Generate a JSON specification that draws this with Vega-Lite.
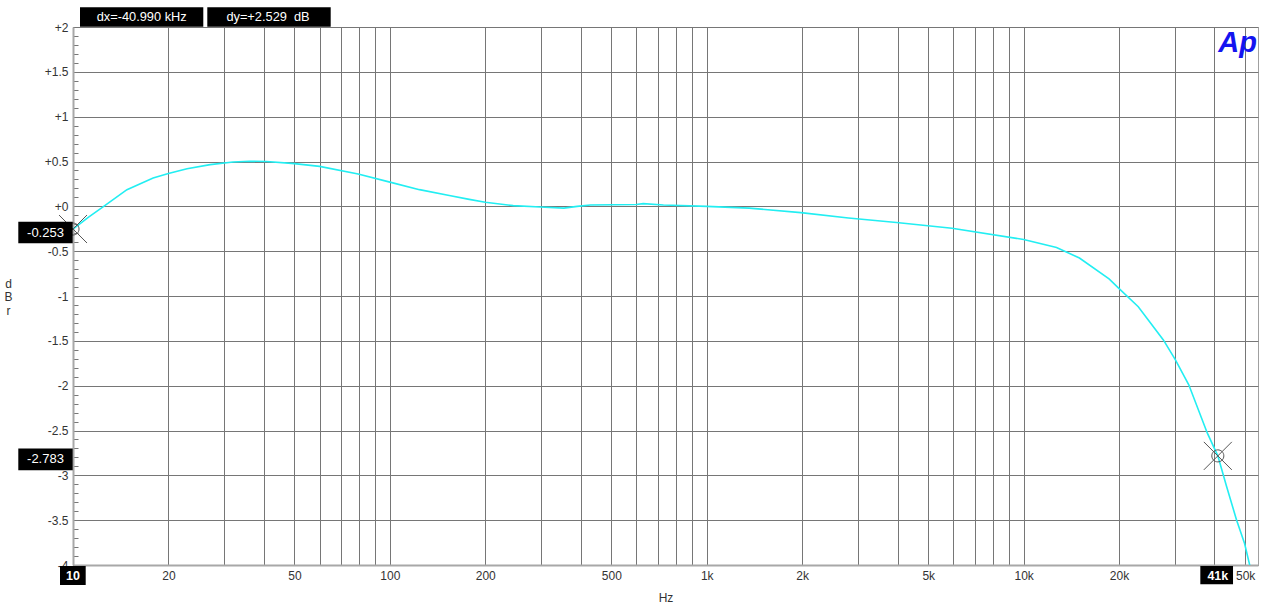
{
  "$schema": "https://vega.github.io/schema/vega-lite/v6.json",
  "width": 1185,
  "height": 538,
  "autosize": {"type": "none"},
  "padding": {"left": 73, "top": 27, "right": 22, "bottom": 46},
  "background": "white",
  "config": {
    "font": "Liberation Sans",
    "view": {"stroke": "#a0a0a0", "strokeWidth": 1}
  },
  "datasets": {
    "curve": [
      {"freq": 10, "dB": -0.253},
      {"freq": 11.2, "dB": -0.12},
      {"freq": 12.5, "dB": 0.0},
      {"freq": 14.8, "dB": 0.186},
      {"freq": 17.9, "dB": 0.317},
      {"freq": 20, "dB": 0.365},
      {"freq": 22.9, "dB": 0.42},
      {"freq": 27.1, "dB": 0.465},
      {"freq": 32, "dB": 0.495},
      {"freq": 36, "dB": 0.503},
      {"freq": 40.8, "dB": 0.5},
      {"freq": 50, "dB": 0.476},
      {"freq": 60, "dB": 0.446},
      {"freq": 79.4, "dB": 0.36},
      {"freq": 100, "dB": 0.27},
      {"freq": 124, "dB": 0.186},
      {"freq": 154, "dB": 0.12},
      {"freq": 178, "dB": 0.078},
      {"freq": 200, "dB": 0.045},
      {"freq": 245, "dB": 0.008},
      {"freq": 298, "dB": -0.007},
      {"freq": 354, "dB": -0.02},
      {"freq": 390, "dB": 0.0},
      {"freq": 429, "dB": 0.015},
      {"freq": 600, "dB": 0.02},
      {"freq": 630, "dB": 0.03},
      {"freq": 730, "dB": 0.015},
      {"freq": 1000, "dB": 0.0},
      {"freq": 1360, "dB": -0.02},
      {"freq": 1980, "dB": -0.07},
      {"freq": 2800, "dB": -0.13},
      {"freq": 3970, "dB": -0.18},
      {"freq": 5940, "dB": -0.245},
      {"freq": 10000, "dB": -0.37},
      {"freq": 12700, "dB": -0.46},
      {"freq": 15000, "dB": -0.576},
      {"freq": 18600, "dB": -0.81},
      {"freq": 19900, "dB": -0.91},
      {"freq": 23000, "dB": -1.12},
      {"freq": 27600, "dB": -1.49},
      {"freq": 30100, "dB": -1.71},
      {"freq": 33200, "dB": -1.99},
      {"freq": 38000, "dB": -2.53},
      {"freq": 41000, "dB": -2.783},
      {"freq": 43700, "dB": -3.125},
      {"freq": 47000, "dB": -3.5},
      {"freq": 49800, "dB": -3.76},
      {"freq": 51600, "dB": -3.99},
      {"freq": 52000, "dB": -4.05}
    ],
    "cursors": [
      {"freq": 10, "dB": -0.253, "label": "-0.253", "flabel": "10"},
      {"freq": 41000, "dB": -2.783, "label": "-2.783", "flabel": "41k"}
    ],
    "readouts": [
      {"slot": "dx", "text": "dx=-40.990 kHz"},
      {"slot": "dy", "text": "dy=+2.529 \u00a0dB"}
    ]
  },
  "layer": [
    {
      "data": {"name": "curve"},
      "mark": {"type": "line", "color": "#22eef2", "strokeWidth": 1.6, "clip": true},
      "encoding": {
        "x": {
          "field": "freq",
          "type": "quantitative",
          "scale": {"type": "log", "domain": [10, 54900], "nice": false},
          "axis": {
            "title": "Hz",
            "values": [10, 20, 30, 40, 50, 60, 70, 80, 90, 100, 200, 300, 400, 500, 600, 700, 800, 900, 1000, 2000, 3000, 4000, 5000, 6000, 7000, 8000, 9000, 10000, 20000, 30000, 40000, 50000],
            "tickCount": 200,
            "labelExpr": "indexof([20,50,100,200,500,1000,2000,5000,10000,20000,50000], datum.value) >= 0 ? (datum.value >= 1000 ? (datum.value/1000) + 'k' : datum.value + '') : ''",
            "grid": true,
            "gridColor": "#767676",
            "gridWidth": 1,
            "ticks": false,
            "domainColor": "#a8a8a8",
            "domainWidth": 2,
            "labelFontSize": 12,
            "labelColor": "#333333",
            "labelPadding": 5,
            "labelOverlap": false,
            "labelFlush": false,
            "titleFontSize": 12,
            "titleFontWeight": "normal",
            "titleColor": "#333333",
            "titleY": 32,
            "titleBaseline": "middle"
          }
        },
        "y": {
          "field": "dB",
          "type": "quantitative",
          "scale": {"domain": [-4, 2], "nice": false, "zero": false},
          "axis": {
            "title": ["d", "B", "r"],
            "values": [-4, -3.9, -3.8, -3.7, -3.6, -3.5, -3.4, -3.3, -3.2, -3.1, -3, -2.9, -2.8, -2.7, -2.6, -2.5, -2.4, -2.3, -2.2, -2.1, -2, -1.9, -1.8, -1.7, -1.6, -1.5, -1.4, -1.3, -1.2, -1.1, -1, -0.9, -0.8, -0.7, -0.6, -0.5, -0.4, -0.3, -0.2, -0.1, 0, 0.1, 0.2, 0.3, 0.4, 0.5, 0.6, 0.7, 0.8, 0.9, 1, 1.1, 1.2, 1.3, 1.4, 1.5, 1.6, 1.7, 1.8, 1.9, 2],
            "tickCount": 200,
            "labelExpr": "abs(datum.value*2 - round(datum.value*2)) < 0.01 ? (datum.value > 0.001 ? '+' + datum.value : (abs(datum.value) < 0.001 ? '+0' : '' + datum.value)) : ''",
            "grid": true,
            "gridColor": "#767676",
            "gridWidth": 1,
            "gridOpacity": {"condition": {"test": "abs(datum.value*2 - round(datum.value*2)) < 0.01", "value": 1}, "value": 0},
            "tickSize": -5,
            "tickColor": "#777777",
            "tickOpacity": {"condition": {"test": "abs(datum.value*2 - round(datum.value*2)) < 0.01", "value": 0}, "value": 1},
            "domainColor": "#a8a8a8",
            "domainWidth": 2,
            "labelFontSize": 12,
            "labelColor": "#333333",
            "labelPadding": 10,
            "labelOverlap": false,
            "labelFlush": false,
            "titleAngle": 0,
            "titleX": -65,
            "titleY": 256,
            "titleAlign": "center",
            "titleBaseline": "middle",
            "titleFontSize": 12,
            "titleFontWeight": "normal",
            "titleLineHeight": 13.5,
            "titleColor": "#333333"
          }
        }
      }
    },
    {
      "data": {"name": "cursors"},
      "mark": {"type": "point", "shape": "M-1,-1L1,1M-1,1L1,-1M0.43,0A0.43,0.43 0 1 1 -0.43,0A0.43,0.43 0 1 1 0.43,0Z", "size": 784, "filled": false, "stroke": "#555555", "strokeWidth": 1, "opacity": 1, "clip": false},
      "encoding": {
        "x": {"field": "freq", "type": "quantitative"},
        "y": {"field": "dB", "type": "quantitative"}
      }
    },
    {
      "data": {"name": "cursors"},
      "mark": {"type": "point", "shape": "M-5.47,-0.73H-0.03V1.43H-5.47Z", "size": 400, "filled": true, "color": "black", "opacity": 1, "strokeWidth": 0, "clip": false},
      "encoding": {
        "x": {"datum": 10, "type": "quantitative"},
        "y": {"field": "dB", "type": "quantitative"}
      }
    },
    {
      "data": {"name": "cursors"},
      "mark": {"type": "text", "color": "white", "fontSize": 13, "align": "center", "baseline": "middle", "dx": -27.5, "dy": 3.6, "clip": false},
      "encoding": {
        "x": {"datum": 10, "type": "quantitative"},
        "y": {"field": "dB", "type": "quantitative"},
        "text": {"field": "label"}
      }
    },
    {
      "data": {"name": "cursors"},
      "mark": {"type": "point", "size": 400, "filled": true, "color": "black", "opacity": 1, "strokeWidth": 0, "clip": false},
      "encoding": {
        "x": {"field": "freq", "type": "quantitative"},
        "y": {"datum": -4, "type": "quantitative"},
        "shape": {"field": "flabel", "type": "nominal", "scale": {"domain": ["10", "41k"], "range": ["M-1.3,0.1H1.27V2H-1.3Z", "M-1.75,0.1H1.52V1.93H-1.75Z"]}, "legend": null}
      }
    },
    {
      "data": {"name": "cursors"},
      "mark": {"type": "text", "color": "white", "fontSize": 12.5, "fontWeight": "bold", "align": "center", "baseline": "middle", "dy": 10.5, "clip": false},
      "encoding": {
        "x": {"field": "freq", "type": "quantitative"},
        "y": {"datum": -4, "type": "quantitative"},
        "text": {"field": "flabel"}
      }
    },
    {
      "data": {"name": "readouts"},
      "transform": [{"filter": "datum.slot == 'dx'"}],
      "mark": {"type": "point", "shape": "M0.7,-1.97H13.03V-0.03H0.7Z", "size": 400, "filled": true, "color": "black", "opacity": 1, "strokeWidth": 0, "clip": false},
      "encoding": {
        "x": {"datum": 10, "type": "quantitative"},
        "y": {"datum": 2, "type": "quantitative"}
      }
    },
    {
      "data": {"name": "readouts"},
      "transform": [{"filter": "datum.slot == 'dy'"}],
      "mark": {"type": "point", "shape": "M13.43,-1.97H25.77V-0.03H13.43Z", "size": 400, "filled": true, "color": "black", "opacity": 1, "strokeWidth": 0, "clip": false},
      "encoding": {
        "x": {"datum": 10, "type": "quantitative"},
        "y": {"datum": 2, "type": "quantitative"}
      }
    },
    {
      "data": {"name": "readouts"},
      "transform": [{"filter": "datum.slot == 'dx'"}],
      "mark": {"type": "text", "color": "white", "fontSize": 12.8, "align": "center", "baseline": "middle", "dx": 68.7, "dy": -10, "clip": false},
      "encoding": {
        "x": {"datum": 10, "type": "quantitative"},
        "y": {"datum": 2, "type": "quantitative"},
        "text": {"field": "text"}
      }
    },
    {
      "data": {"name": "readouts"},
      "transform": [{"filter": "datum.slot == 'dy'"}],
      "mark": {"type": "text", "color": "white", "fontSize": 12.8, "align": "center", "baseline": "middle", "dx": 195, "dy": -10, "clip": false},
      "encoding": {
        "x": {"datum": 10, "type": "quantitative"},
        "y": {"datum": 2, "type": "quantitative"},
        "text": {"field": "text"}
      }
    },
    {
      "data": {"values": [{"logo": "Ap"}]},
      "mark": {"type": "text", "color": "#1414f0", "fontSize": 29, "fontWeight": "bold", "fontStyle": "italic", "align": "right", "baseline": "alphabetic", "dx": -1, "dy": 25, "clip": false},
      "encoding": {
        "x": {"datum": 54900, "type": "quantitative"},
        "y": {"datum": 2, "type": "quantitative"},
        "text": {"field": "logo"}
      }
    }
  ]
}
